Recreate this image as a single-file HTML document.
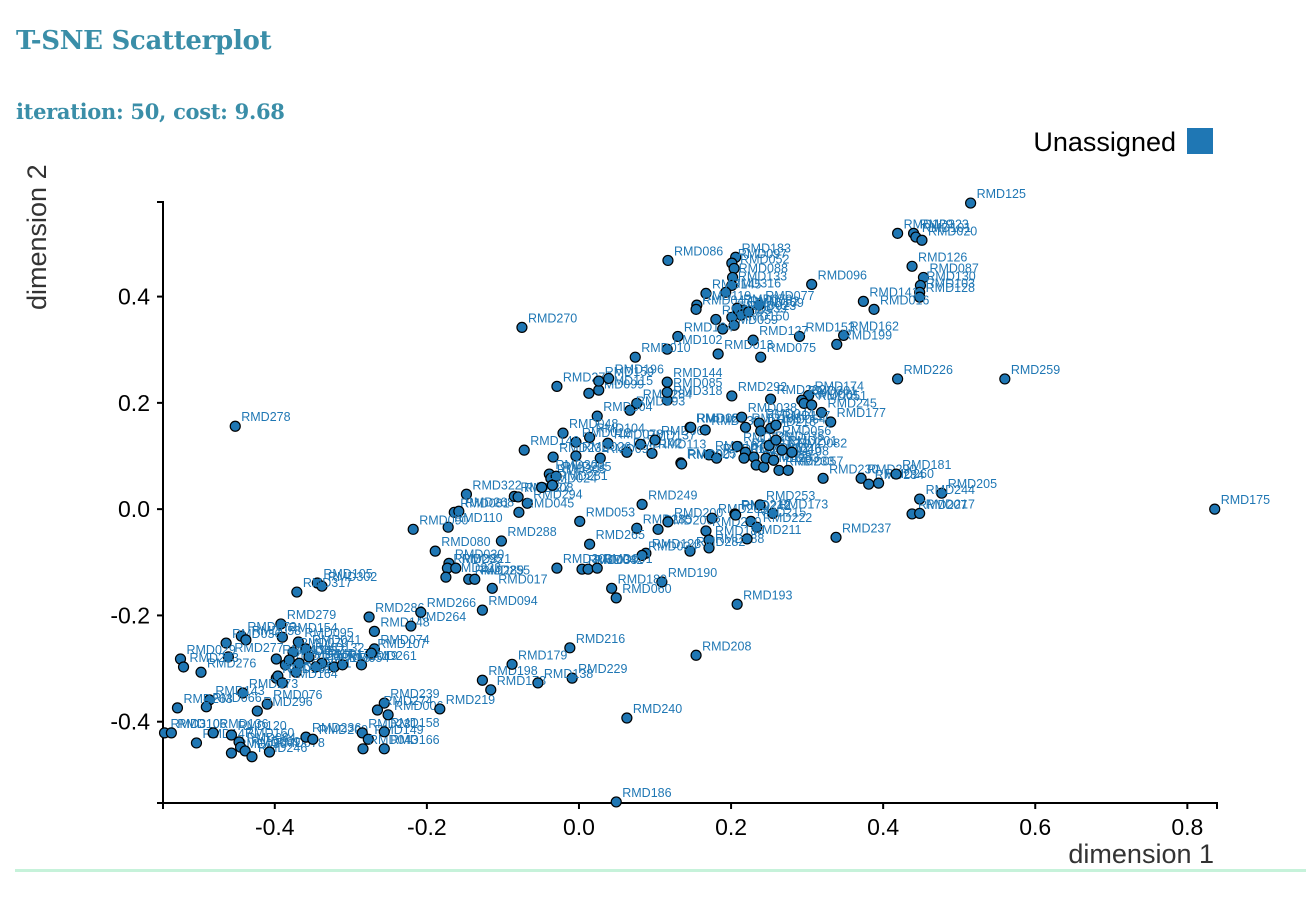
<!DOCTYPE html>
<html><head><meta charset="utf-8">
<style>
body{margin:0;background:#fff;width:1306px;height:902px;overflow:hidden;position:relative;font-family:"Liberation Sans",sans-serif}
#title{position:absolute;left:16px;top:26px;font:bold 26px "DejaVu Serif",serif;color:#3a8ea8;letter-spacing:-0.3px}
#sub{position:absolute;left:16px;top:99px;font:bold 21px "DejaVu Serif",serif;color:#3a8ea8;letter-spacing:-0.3px}
#rule{position:absolute;left:15px;top:869px;width:1291px;height:3px;background:#c6f2da}
svg text{font-family:"Liberation Sans",sans-serif}
</style></head><body>
<div id="title">T-SNE Scatterplot</div>
<div id="sub">iteration: 50, cost: 9.68</div>
<div id="rule"></div>
<svg id="chart" width="1306" height="902" style="position:absolute;left:0;top:0">
<g id="legend">
<text x="1176" y="151" font-size="27" text-anchor="end" fill="#000">Unassigned</text>
<rect x="1187" y="128" width="26" height="26" fill="#1f77b4"/>
</g>
<text x="1214" y="863" font-size="27" text-anchor="end" fill="#333">dimension 1</text>
<text transform="translate(46,310) rotate(-90)" font-size="27" fill="#333">dimension 2</text>
<g id="axes"></g><g id="pts"></g>
</svg>
<script>
const labels=["RMD125","RMD129","RMD323","RMD101","RMD020","RMD126","RMD087","RMD130","RMD103","RMD128","RMD141","RMD016","RMD162","RMD199","RMD153","RMD096","RMD086","RMD183","RMD097","RMD052","RMD088","RMD133","RMD316","RMD145","RMD119","RMD047","RMD077","RMD062","RMD079","RMD023","RMD039","RMD150","RMD109","RMD069","RMD059","RMD124","RMD102","RMD010","RMD127","RMD075","RMD013","RMD270","RMD278","RMD226","RMD259","RMD175","RMD271","RMD099","RMD115","RMD159","RMD196","RMD144","RMD318","RMD284","RMD093","RMD292","RMD202","RMD174","RMD301","RMD061","RMD051","RMD245","RMD177","RMD304","RMD104","RMD048","RMD012","RMD078","RMD142","RMD113","RMD137","RMD068","RMD189","RMD139","RMD140","RMD232","RMD026","RMD092","RMD025","RMD300","RMD305","RMD235","RMD187","RMD018","RMD022","RMD038","RMD191","RMD044","RMD218","RMD064","RMD117","RMD225","RMD167","RMD031","RMD252","RMD063","RMD283","RMD046","RMD233","RMD057","RMD108","RMD035","RMD056","RMD201","RMD082","RMD007","RMD230","RMD290","RMD234","RMD260","RMD181","RMD205","RMD244","RMD207","RMD217","RMD237","RMD322","RMD081","RMD268","RMD110","RMD090","RMD027","RMD308","RMD294","RMD045","RMD024","RMD281","RMD053","RMD249","RMD285","RMD206","RMD200","RMD203","RMD212","RMD253","RMD173","RMD215","RMD222","RMD210","RMD185","RMD188","RMD211","RMD282","RMD123","RMD034","RMD265","RMD288","RMD080","RMD030","RMD295","RMD223","RMD321","RMD289","RMD255","RMD303","RMD033","RMD042","RMD091","RMD017","RMD190","RMD180","RMD060","RMD193","RMD208","RMD240","RMD186","RMD216","RMD229","RMD105","RMD302","RMD317","RMD286","RMD148","RMD264","RMD266","RMD094","RMD279","RMD154","RMD072","RMD036","RMD058","RMD277","RMD095","RMD041","RMD070","RMD134","RMD155","RMD081b","RMD132","RMD171","RMD054","RMD019","RMD074","RMD107","RMD261","RMD037","RMD114","RMD118","RMD029","RMD213","RMD276","RMD161","RMD065","RMD164","RMD076","RMD296","RMD273","RMD143","RMD066","RMD263","RMD310","RMD106","RMD147","RMD136","RMD120","RMD050","RMD160","RMD084","RMD089","RMD246","RMD078b","RMD236","RMD209","RMD231","RMD149","RMD043","RMD158","RMD166","RMD006","RMD239","RMD274","RMD219","RMD198","RMD178","RMD179","RMD138","RMD242","RMD085"];
const xs=[0.515,0.419,0.440,0.443,0.451,0.438,0.453,0.449,0.448,0.448,0.374,0.388,0.348,0.339,0.290,0.306,0.117,0.206,0.201,0.204,0.202,0.201,0.193,0.167,0.155,0.154,0.237,0.217,0.208,0.213,0.201,0.204,0.223,0.180,0.189,0.130,0.116,0.074,0.229,0.239,0.183,-0.075,-0.452,0.419,0.560,0.836,-0.029,0.013,0.026,0.026,0.039,0.116,0.116,0.076,0.067,0.201,0.252,0.302,0.293,0.296,0.306,0.319,0.331,0.024,0.014,-0.021,-0.004,0.038,0.063,0.096,0.081,0.100,0.146,0.166,-0.072,-0.034,-0.004,0.028,0.134,-0.039,-0.037,-0.030,0.171,0.181,0.147,0.214,0.219,0.237,0.239,0.252,0.259,0.208,0.219,0.217,0.230,0.233,0.243,0.246,0.263,0.275,0.256,0.250,0.259,0.267,0.280,0.135,0.321,0.371,0.381,0.394,0.417,0.477,0.448,0.438,0.448,0.338,-0.148,-0.164,-0.158,-0.172,-0.218,-0.085,-0.080,-0.068,-0.079,-0.049,-0.035,0.001,0.083,0.076,0.104,0.117,0.175,0.205,0.238,0.255,0.226,0.234,0.167,0.171,0.171,0.221,0.146,0.088,0.083,0.014,-0.102,-0.189,-0.171,-0.173,-0.175,-0.162,-0.145,-0.137,-0.029,0.004,0.012,0.024,-0.114,0.109,0.043,0.049,0.208,0.154,0.063,0.049,-0.012,-0.009,-0.344,-0.338,-0.371,-0.276,-0.269,-0.221,-0.208,-0.127,-0.392,-0.390,-0.444,-0.464,-0.438,-0.461,-0.369,-0.359,-0.376,-0.398,-0.386,-0.372,-0.355,-0.338,-0.322,-0.311,-0.269,-0.273,-0.286,-0.381,-0.368,-0.346,-0.524,-0.520,-0.497,-0.398,-0.396,-0.390,-0.410,-0.423,-0.442,-0.486,-0.490,-0.528,-0.545,-0.536,-0.503,-0.481,-0.457,-0.457,-0.447,-0.445,-0.439,-0.430,-0.407,-0.359,-0.350,-0.285,-0.277,-0.284,-0.256,-0.256,-0.251,-0.256,-0.265,-0.183,-0.127,-0.116,-0.088,-0.054,0.206,0.116];
const ys=[0.576,0.519,0.519,0.512,0.506,0.457,0.436,0.421,0.408,0.399,0.391,0.376,0.327,0.310,0.325,0.423,0.468,0.474,0.463,0.453,0.436,0.421,0.408,0.406,0.384,0.376,0.384,0.374,0.378,0.365,0.361,0.346,0.371,0.357,0.339,0.325,0.301,0.286,0.318,0.286,0.292,0.342,0.156,0.245,0.245,0.000,0.231,0.218,0.224,0.241,0.246,0.239,0.205,0.199,0.186,0.213,0.207,0.214,0.205,0.199,0.196,0.182,0.164,0.175,0.135,0.143,0.126,0.124,0.107,0.105,0.122,0.130,0.154,0.149,0.111,0.098,0.100,0.096,0.087,0.066,0.058,0.062,0.102,0.096,0.154,0.173,0.154,0.162,0.147,0.152,0.158,0.118,0.107,0.096,0.098,0.083,0.079,0.096,0.073,0.073,0.092,0.120,0.130,0.111,0.107,0.085,0.058,0.058,0.047,0.049,0.066,0.030,0.019,-0.009,-0.008,-0.053,0.028,-0.006,-0.004,-0.034,-0.038,0.024,0.023,0.011,-0.006,0.041,0.045,-0.023,0.009,-0.036,-0.038,-0.024,-0.017,-0.009,0.008,-0.008,-0.023,-0.034,-0.041,-0.058,-0.073,-0.056,-0.079,-0.083,-0.087,-0.066,-0.060,-0.079,-0.102,-0.111,-0.128,-0.111,-0.132,-0.132,-0.111,-0.113,-0.113,-0.111,-0.149,-0.137,-0.149,-0.167,-0.179,-0.275,-0.393,-0.551,-0.261,-0.318,-0.139,-0.145,-0.156,-0.203,-0.230,-0.220,-0.194,-0.190,-0.216,-0.241,-0.239,-0.252,-0.246,-0.278,-0.250,-0.263,-0.269,-0.282,-0.293,-0.307,-0.278,-0.290,-0.297,-0.293,-0.263,-0.271,-0.293,-0.284,-0.290,-0.297,-0.282,-0.297,-0.307,-0.318,-0.314,-0.327,-0.367,-0.380,-0.346,-0.359,-0.372,-0.374,-0.421,-0.421,-0.440,-0.421,-0.425,-0.459,-0.438,-0.448,-0.455,-0.466,-0.457,-0.429,-0.433,-0.421,-0.433,-0.451,-0.419,-0.451,-0.387,-0.365,-0.378,-0.376,-0.322,-0.340,-0.292,-0.327,-0.011,0.220];
const xTicks=[-0.4,-0.2,0.0,0.2,0.4,0.6,0.8];
const yTicks=[-0.4,-0.2,0.0,0.2,0.4];
const xDomain=[-0.547,0.839], yDomain=[-0.553,0.578];
const L=163,R=1217,T=202,B=803;
const sx=v=>L+(v-xDomain[0])/(xDomain[1]-xDomain[0])*(R-L);
const sy=v=>B-(v-yDomain[0])/(yDomain[1]-yDomain[0])*(B-T);
const NS="http://www.w3.org/2000/svg";
function mk(tag,attrs,parent){const e=document.createElementNS(NS,tag);for(const k in attrs)e.setAttribute(k,attrs[k]);parent.appendChild(e);return e;}
const ax=document.getElementById('axes');
const xa=mk('path',{d:`M${L},${B+6}V${B}H${R}V${B+6}`,fill:'none',stroke:'#000','stroke-width':2},ax);


const ya=mk('path',{d:`M${L-6},${T}H${L}V${B}H${L-6}`,fill:'none',stroke:'#000','stroke-width':2},ax);


xTicks.forEach(t=>{const x=sx(t);
 mk('line',{x1:x,x2:x,y1:B,y2:B+6,stroke:'#000','stroke-width':2},ax);
 const tx=mk('text',{x:x,y:B+32,'font-size':23,'text-anchor':'middle',fill:'#000'},ax);
 tx.textContent=t.toFixed(1);
 
 });
yTicks.forEach(t=>{const y=sy(t);
 mk('line',{x1:L-6,x2:L,y1:y,y2:y,stroke:'#000','stroke-width':2},ax);
 const tx=mk('text',{x:L-13,y:y+8,'font-size':23,'text-anchor':'end',fill:'#000'},ax);
 tx.textContent=t.toFixed(1);
 
 });
const pg=document.getElementById('pts');
for(let i=0;i<xs.length;i++){
 const cx=sx(xs[i]),cy=sy(ys[i]);
 const c=mk('circle',{cx:cx,cy:cy,r:5,fill:'#1f77b4',stroke:'#000','stroke-width':1.2},pg);
 
 
 const t=mk('text',{x:cx+6,y:cy-5,'font-size':12.5,fill:'#1f77b4'},pg);
 t.textContent=labels[i].replace(/b$/,'');
 
 
}
</script>
</body></html>
